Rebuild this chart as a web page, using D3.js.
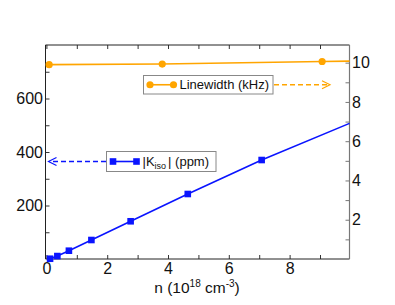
<!DOCTYPE html>
<html>
<head>
<meta charset="utf-8">
<script src="https://cdn.jsdelivr.net/npm/d3@7"></script>
<style>
  body { margin: 0; background: #fff; }
  text { font-family: "Liberation Sans", Arial, sans-serif; }
</style>
</head>
<body>
<svg id="chart" width="395" height="305"></svg>
<script>
// |K_iso| (ppm) vs carrier density n (1e18 cm^-3)
const kIsoN = [0.12, 0.36, 0.74, 1.48, 2.77, 4.65, 7.08];
const kIso = [1, 11, 31, 71, 141, 243, 370];
// guide line through the points, carried on to the right edge
const kLineN = [0.12, 0.36, 0.74, 1.48, 2.77, 4.65, 7.08, 9.97];
const kLine = [1, 11, 31, 71, 141, 243, 370, 507];

// linewidth (kHz)
const lwN = [0.09, 3.81, 9.07];
const lw = [9.9, 9.93, 10.06];
const lwLineN = [0.09, 3.81, 9.07, 9.97];
const lwLine = [9.9, 9.93, 10.06, 10.08];

const xTicks = [0, 1, 2, 3, 4, 5, 6, 7, 8, 9];
const xLabels = [0, 2, 4, 6, 8];
const yLeftTicks = [100, 200, 300, 400, 500, 600, 700];
const yLeftLabels = [200, 400, 600];
const yRightTicks = [1, 2, 3, 4, 5, 6, 7, 8, 9, 10];
const yRightLabels = [2, 4, 6, 8, 10];

const orange = '#ffa500';
const blue = '#0a14ff';

const svg = d3.select('#chart');
const margin = { left: 45.5, top: 45, right: 395 - 349.5, bottom: 305 - 259 };
const W = 395 - margin.left - margin.right;
const H = 305 - margin.top - margin.bottom;

const x = d3.scaleLinear().domain([-0.03, 9.97]).range([0, W]);
const yL = d3.scaleLinear().domain([0, 800]).range([H, 0]);
const yR = d3.scaleLinear().domain([0, 10.9]).range([H, 0]);

svg.append('rect').attr('width', 395).attr('height', 305).attr('fill', '#fff');

const g = svg.append('g').attr('transform', `translate(${margin.left},${margin.top})`);

const fmt = list => d => list.includes(d) ? d : '';

const styleAxis = (sel, col) => {
  sel.select('.domain').remove();
  sel.selectAll('line').attr('stroke', col).attr('stroke-width', 1);
  sel.selectAll('text').attr('font-size', 16).attr('fill', '#111')
    .attr('font-family', '"Liberation Sans", Arial, sans-serif');
};

g.append('g').attr('transform', `translate(0,${H})`)
  .call(d3.axisBottom(x).tickValues(xTicks).tickFormat(fmt(xLabels)).tickSizeInner(-4).tickSizeOuter(0).tickPadding(4))
  .call(s => styleAxis(s, '#333'));

g.append('g')
  .call(d3.axisTop(x).tickValues(xTicks).tickFormat('').tickSizeInner(-4).tickSizeOuter(0))
  .call(s => styleAxis(s, '#333'));

g.append('g')
  .call(d3.axisLeft(yL).tickValues(yLeftTicks).tickFormat(fmt(yLeftLabels)).tickSizeInner(-4).tickSizeOuter(0).tickPadding(2.5))
  .call(s => styleAxis(s, '#333'));

g.append('g').attr('transform', `translate(${W},0)`)
  .call(d3.axisRight(yR).tickValues(yRightTicks).tickFormat(fmt(yRightLabels)).tickSizeInner(-4).tickSizeOuter(0).tickPadding(2.5))
  .call(s => styleAxis(s, '#777'));

// frame
g.append('path').attr('d', `M${W},0H0V${H}H${W}`).attr('fill', 'none').attr('stroke', '#222').attr('stroke-width', 1);
g.append('line').attr('x1', W).attr('x2', W).attr('y1', 0).attr('y2', H).attr('stroke', '#777').attr('stroke-width', 1.2);

// linewidth series (right axis)
g.append('path')
  .datum(d3.zip(lwLineN, lwLine))
  .attr('fill', 'none').attr('stroke', orange).attr('stroke-width', 1.6)
  .attr('d', d3.line().x(d => x(d[0])).y(d => yR(d[1])));
g.selectAll('circle.lw').data(d3.zip(lwN, lw)).enter().append('circle')
  .attr('class', 'lw').attr('cx', d => x(d[0])).attr('cy', d => yR(d[1])).attr('r', 3.6)
  .attr('fill', orange);

// |K_iso| series (left axis)
g.append('path')
  .datum(d3.zip(kLineN, kLine))
  .attr('fill', 'none').attr('stroke', blue).attr('stroke-width', 1.6)
  .attr('d', d3.line().x(d => x(d[0])).y(d => yL(d[1])));
g.selectAll('rect.k').data(d3.zip(kIsoN, kIso)).enter().append('rect')
  .attr('class', 'k').attr('x', d => x(d[0]) - 3.3).attr('y', d => yL(d[1]) - 3.3)
  .attr('width', 6.6).attr('height', 6.6).attr('fill', blue);

// legends with dashed arrows pointing at their axis
const legend = (bx, by, bw, bh, col, marker, label, arrowFrom, arrowTo) => {
  const lg = svg.append('g');
  const cy = by + bh / 2;
  lg.append('rect').attr('x', bx).attr('y', by).attr('width', bw).attr('height', bh)
    .attr('fill', '#fff').attr('stroke', '#888').attr('stroke-width', 1);
  lg.append('line').attr('x1', bx + 6.5).attr('x2', bx + 30).attr('y1', cy).attr('y2', cy)
    .attr('stroke', col).attr('stroke-width', 1.6);
  [bx + 6.5, bx + 30].forEach(mx => {
    if (marker === 'circle') lg.append('circle').attr('cx', mx).attr('cy', cy).attr('r', 3.6).attr('fill', col);
    else lg.append('rect').attr('x', mx - 3.3).attr('y', cy - 3.3).attr('width', 6.6).attr('height', 6.6).attr('fill', col);
  });
  const t = lg.append('text').attr('x', bx + 36).attr('y', cy + 4.6).attr('font-size', 13).attr('fill', '#111');
  label(t);
  const dir = Math.sign(arrowTo - arrowFrom);
  lg.append('line').attr('x1', arrowFrom).attr('x2', arrowTo - dir).attr('y1', cy).attr('y2', cy)
    .attr('stroke', col).attr('stroke-width', 1.3).attr('stroke-dasharray', '5,3');
  lg.append('path')
    .attr('d', `M${arrowTo - dir * 8},${cy - 4}L${arrowTo},${cy}L${arrowTo - dir * 8},${cy + 4}`)
    .attr('fill', 'none').attr('stroke', col).attr('stroke-width', 1.2);
};

legend(143.5, 75.5, 129.5, 18.5, orange, 'circle',
  t => t.text('Linewidth (kHz)'), 274, 330);

legend(106.5, 151.5, 109.5, 20, blue, 'square',
  t => {
    t.append('tspan').text('|K');
    t.append('tspan').attr('font-size', 9).attr('dy', 3).text('iso');
    t.append('tspan').attr('dy', -3).attr('dx', 2).text('| (ppm)');
  }, 106, 48.5);

// x axis title
const xt = svg.append('text').attr('x', 197).attr('y', 293).attr('text-anchor', 'middle')
  .attr('font-size', 15.5).attr('fill', '#111');
xt.append('tspan').text('n (10');
xt.append('tspan').attr('font-size', 10).attr('dy', -6).text('18');
xt.append('tspan').attr('dy', 6).text(' cm');
xt.append('tspan').attr('font-size', 10).attr('dy', -6).text('-3');
xt.append('tspan').attr('dy', 6).text(')');
</script>
</body>
</html>
